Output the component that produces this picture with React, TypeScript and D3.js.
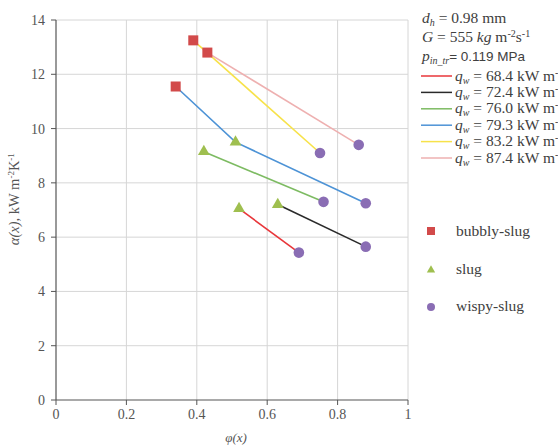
import React from "react";
import * as d3 from "d3";

const xTicks = [0, 0.2, 0.4, 0.6, 0.8, 1];
const xTickLabels = ["0", "0.2", "0.4", "0.6", "0.8", "1"];
const yTicks = [0, 2, 4, 6, 8, 10, 12, 14];

const bubblyPhi = [0.34, 0.39, 0.43];
const bubblyAlpha = [11.55, 13.25, 12.8];
const slugPhi = [0.42, 0.51, 0.52, 0.63];
const slugAlpha = [9.15, 9.5, 7.05, 7.2];
const wispyPhi = [0.69, 0.88, 0.76, 0.88, 0.75, 0.86];
const wispyAlpha = [5.43, 5.65, 7.3, 7.25, 9.1, 9.4];

const qLabels = ["68.4", "72.4", "76.0", "79.3", "83.2", "87.4"];
const qColors = ["#e8363a", "#2a2a2a", "#7dbb62", "#4d93d6", "#f7e24a", "#eeb0b0"];
const qPhi = [
  [0.52, 0.69],
  [0.63, 0.88],
  [0.42, 0.76],
  [0.34, 0.51, 0.88],
  [0.39, 0.75],
  [0.43, 0.86],
];
const qAlpha = [
  [7.05, 5.43],
  [7.2, 5.65],
  [9.15, 7.3],
  [11.55, 9.5, 7.25],
  [13.25, 9.1],
  [12.8, 9.4],
];

const W = 558;
const H = 447;
const x = d3.scaleLinear().domain([0, 1]).range([56, 408]);
const y = d3.scaleLinear().domain([0, 14]).range([400, 20]);

const SQ = "#d24a4a";
const TRI = "#9fbf4f";
const CIR = "#8a6db4";
const FONT = "'Liberation Serif', 'Times New Roman', serif";
const TXT = "#404040";
const LF = 15.5;

const triPath = (cx: number, cy: number, s: number) => {
  const sym = d3.symbol(d3.symbolTriangle, s)();
  return { d: sym as string, t: `translate(${cx},${cy})` };
};

export default function App() {
  const line = d3
    .line<[number, number]>()
    .x((d) => x(d[0]))
    .y((d) => y(d[1]));

  return (
    <svg
      width={W}
      height={H}
      style={{ position: "absolute", left: 0, top: 0, background: "#fff" }}
      fontFamily={FONT}
    >
      {/* grid */}
      {yTicks.slice(1).map((t) => (
        <line key={"gy" + t} x1={x(0)} x2={x(1)} y1={y(t)} y2={y(t)} stroke="#d6d6d6" strokeWidth={1} />
      ))}
      {xTicks.slice(1).map((t) => (
        <line key={"gx" + t} x1={x(t)} x2={x(t)} y1={y(0)} y2={y(14)} stroke="#d6d6d6" strokeWidth={1} />
      ))}
      {/* axes */}
      <line x1={x(0)} x2={x(0)} y1={y(0)} y2={y(14)} stroke="#555" strokeWidth={1.2} />
      <line x1={x(0)} x2={x(1)} y1={y(0)} y2={y(0)} stroke="#555" strokeWidth={1.2} />
      {yTicks.map((t) => (
        <g key={"yt" + t}>
          <line x1={x(0) - 5} x2={x(0)} y1={y(t)} y2={y(t)} stroke="#555" />
          <text x={x(0) - 11} y={y(t) + 5} textAnchor="end" fontSize={14} fill="#555">
            {t}
          </text>
        </g>
      ))}
      {xTicks.map((t, i) => (
        <g key={"xt" + t}>
          <line x1={x(t)} x2={x(t)} y1={y(0)} y2={y(0) + 5} stroke="#555" />
          <text x={x(t)} y={y(0) + 19} textAnchor="middle" fontSize={14} fill="#555">
            {xTickLabels[i]}
          </text>
        </g>
      ))}
      {/* axis titles */}
      <text x={236} y={442} textAnchor="middle" fontSize={13} fill="#555" fontStyle="italic">
        φ(x)
      </text>
      <text
        transform={`translate(19,${y(7.4)}) rotate(-90)`}
        textAnchor="middle"
        fontSize={14.5}
        fill="#555"
      >
        <tspan fontStyle="italic">α(x),</tspan>
        <tspan> kW m</tspan>
        <tspan fontSize={9} dy={-5}>-2</tspan>
        <tspan dy={5}>K</tspan>
        <tspan fontSize={9} dy={-5}>-1</tspan>
      </text>

      {/* trend lines */}
      {qPhi.map((ph, i) => (
        <path
          key={"l" + i}
          d={line(ph.map((p, j) => [p, qAlpha[i][j]] as [number, number])) as string}
          fill="none"
          stroke={qColors[i]}
          strokeWidth={1.6}
        />
      ))}

      {/* markers */}
      {bubblyPhi.map((p, i) => (
        <rect key={"b" + i} x={x(p) - 5} y={y(bubblyAlpha[i]) - 5} width={10} height={10} fill={SQ} />
      ))}
      {slugPhi.map((p, i) => {
        const tp = triPath(x(p), y(slugAlpha[i]), 60);
        return <path key={"s" + i} d={tp.d} transform={tp.t} fill={TRI} />;
      })}
      {wispyPhi.map((p, i) => (
        <circle key={"w" + i} cx={x(p)} cy={y(wispyAlpha[i])} r={5.3} fill={CIR} />
      ))}

      {/* legend: conditions */}
      <text x={422} y={23} fontSize={LF} fill={TXT}>
        <tspan fontStyle="italic">d</tspan>
        <tspan fontStyle="italic" fontSize={10} dy={3}>h</tspan>
        <tspan dy={-3}> = 0.98 mm</tspan>
      </text>
      <text x={422} y={42} fontSize={LF} fill={TXT}>
        <tspan fontStyle="italic">G</tspan>
        <tspan> = 555 </tspan>
        <tspan fontStyle="italic">kg</tspan>
        <tspan> m</tspan>
        <tspan fontSize={10} dy={-5}>-2</tspan>
        <tspan dy={5}>s</tspan>
        <tspan fontSize={10} dy={-5}>-1</tspan>
      </text>
      <text x={422} y={61} fontSize={LF} fill={TXT}>
        <tspan fontStyle="italic">p</tspan>
        <tspan fontStyle="italic" fontSize={10} dy={3}>in_tr</tspan>
        <tspan dy={-3} fontFamily="'Liberation Sans', Arial, sans-serif" fontSize={13.5}>= 0.119 MPa</tspan>
      </text>
      {qLabels.map((q, i) => {
        const yy = 76 + i * 16.4;
        return (
          <g key={"ql" + i}>
            <line x1={421} x2={452} y1={yy} y2={yy} stroke={qColors[i]} strokeWidth={1.5} />
            <text x={455} y={yy + 4.5} fontSize={LF} fill={TXT}>
              <tspan fontStyle="italic">q</tspan>
              <tspan fontStyle="italic" fontSize={10} dy={3}>w</tspan>
              <tspan dy={-3}>{` = ${q} kW m`}</tspan>
              <tspan fontSize={10} dy={-5}>-2</tspan>
              <tspan dy={5}>K</tspan>
              <tspan fontSize={10} dy={-5}>-1</tspan>
            </text>
          </g>
        );
      })}

      {/* legend: regimes */}
      <rect x={427} y={227} width={8} height={8} fill={SQ} />
      <text x={456} y={236} fontSize={LF} fill={TXT}>bubbly-slug</text>
      {(() => {
        const tp = triPath(431, 270, 30);
        return <path d={tp.d} transform={tp.t} fill={TRI} />;
      })()}
      <text x={456} y={274} fontSize={LF} fill={TXT}>slug</text>
      <circle cx={431} cy={307} r={4} fill={CIR} />
      <text x={456} y={311} fontSize={LF} fill={TXT}>wispy-slug</text>
    </svg>
  );
}
